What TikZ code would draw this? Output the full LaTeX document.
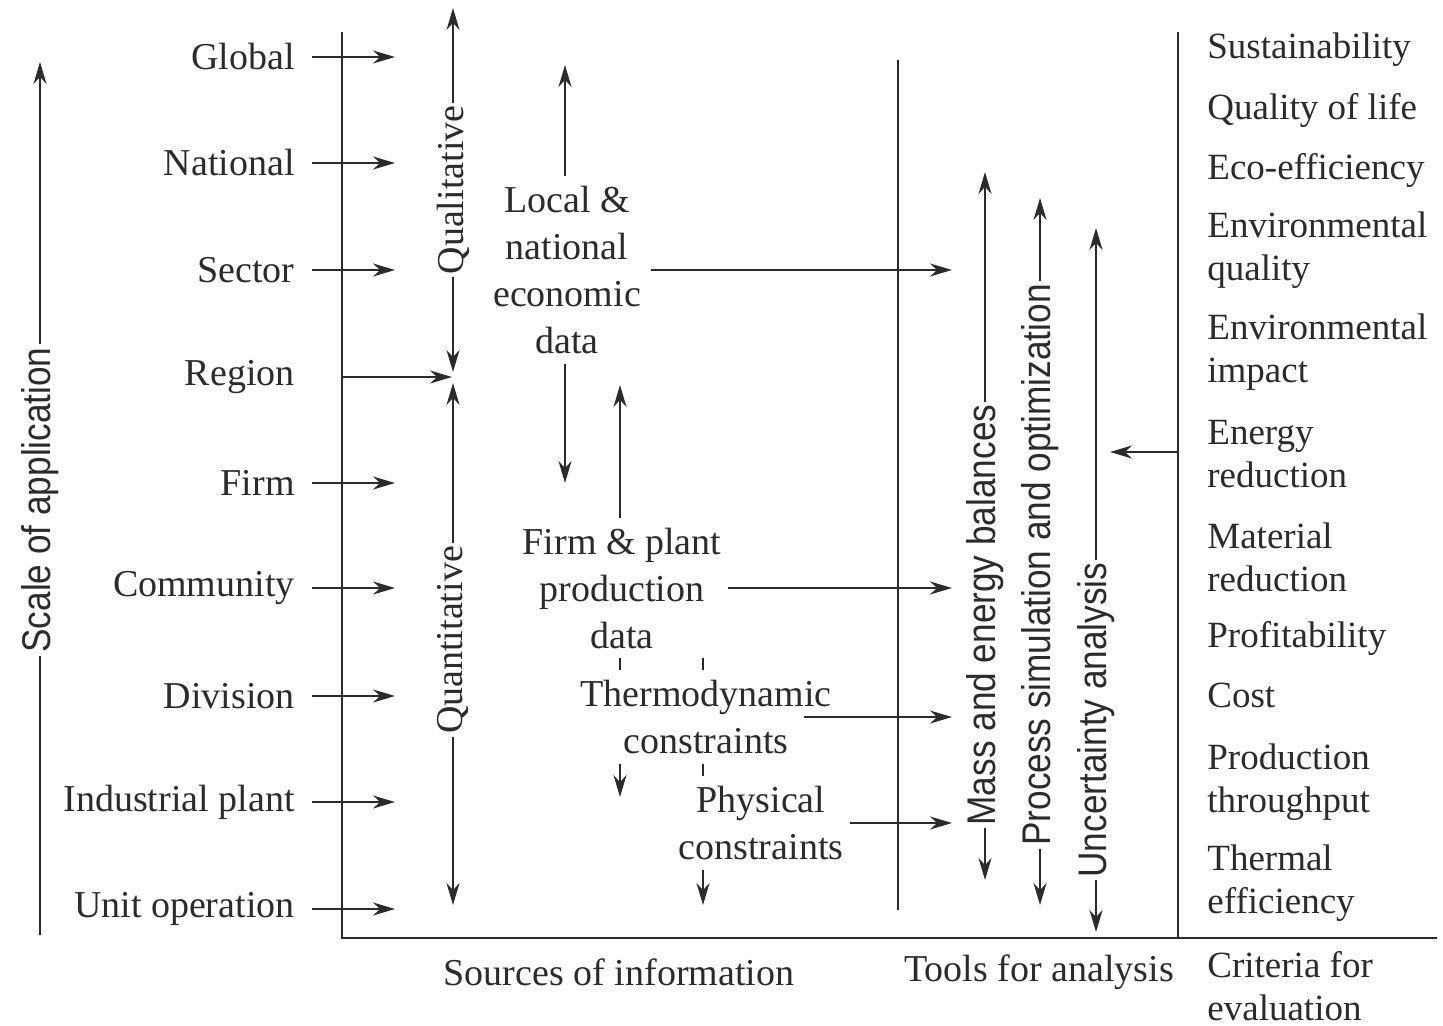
\documentclass[tikz,border=0pt]{standalone}
\usepackage{fontspec}
\setmainfont{Liberation Serif}
\newfontfamily\toolfont[FakeStretch=0.88]{Liberation Sans}
\usepackage{xcolor}
\usepackage{tikz}
\usetikzlibrary{arrows.meta,positioning}
\definecolor{ink}{HTML}{2B2B2B}

\begin{document}
\begin{tikzpicture}[
    x=0.5pt, y=-0.5pt,
    level/.style={anchor=east, inner xsep=8.5pt, inner ysep=0pt, text=ink, font=\fontsize{19}{21.5}\selectfont},
    source/.style={align=center, fill=white, inner xsep=3pt, inner ysep=5pt, text=ink, font=\fontsize{19}{23.5}\selectfont},
    criterion/.style={anchor=west, align=left, inner sep=0pt, text=ink, font=\fontsize{18.5}{21.5}\selectfont},
    caption/.style={inner sep=0pt, text=ink, font=\fontsize{19}{21.5}\selectfont},
    axislabel/.style={rotate=90, fill=white, inner xsep=1.5pt, inner ysep=0pt, text=ink, font=\fontsize{19}{21.5}\selectfont},
    toollabel/.style={rotate=90, fill=white, inner xsep=1.5pt, inner ysep=0pt, text=ink, font=\toolfont\fontsize{20}{22}\selectfont},
    line/.style={-{Stealth[length=11pt,width=6.5pt]}, line width=1.1pt, draw=ink},
    both/.style={{Stealth[length=11pt,width=6.5pt]}-{Stealth[length=11pt,width=6.5pt]}, line width=1.1pt, draw=ink},
    frame/.style={line width=1.1pt, draw=ink}
]
    \useasboundingbox (0,0) rectangle (1443,1026);

    % free ends
    \coordinate (scale-bot) at (40,935);
    \coordinate (scale-top) at (40,62);
    \coordinate (srcline) at (395,0);
    \coordinate (toolline) at (952,0);
    \coordinate (region-src) at (342,377);
    \coordinate (junction) at (452,377);
    \coordinate (qual-top) at (453,8);
    \coordinate (qual-bot) at (453,372);
    \coordinate (quant-top) at (453,383);
    \coordinate (quant-bot) at (453,905);
    \coordinate (econ-top) at (565,65);
    \coordinate (econ-bot) at (565,483);
    \coordinate (plant-top) at (620,385);
    \coordinate (plant-bot) at (620,797);
    \coordinate (thermo-top) at (703,620);
    \coordinate (thermo-bot) at (703,905);
    \coordinate (mass-top) at (985,172);
    \coordinate (mass-bot) at (985,880);
    \coordinate (sim-top) at (1040,198);
    \coordinate (sim-bot) at (1040,905);
    \coordinate (unc-top) at (1096,228);
    \coordinate (unc-bot) at (1096,932);
    \coordinate (crit-src) at (1178,452);
    \coordinate (crit-in) at (1110,452);

    % frame
    \draw[frame] (342,32) -- (342,938) -- (1437,938);
    \draw[frame] (898,60) -- (898,910);
    \draw[frame] (1178,32) -- (1178,938);

    % vertical arrows (behind the labels)
    \draw[line] (scale-bot) -- (scale-top);
    \draw[both] (qual-top) -- (qual-bot);
    \draw[both] (quant-top) -- (quant-bot);
    \draw[both] (econ-top) -- (econ-bot);
    \draw[both] (plant-top) -- (plant-bot);
    \draw[line] (thermo-top) -- (thermo-bot);
    \draw[both] (mass-top) -- (mass-bot);
    \draw[both] (sim-top) -- (sim-bot);
    \draw[both] (unc-top) -- (unc-bot);

    % scale of application
    \node[axislabel, font=\toolfont\fontsize{20}{22}\selectfont] (scale) at (40,500) {Scale of application};
    \node[level] (global) at (312,57) {Global};
    \node[level] (national) at (312,163) {National};
    \node[level] (sector) at (312,270) {Sector};
    \node[level] (region) at (312,377) {Region};
    \node[level] (firm) at (312,483) {Firm};
    \node[level] (community) at (312,588) {Community};
    \node[level] (division) at (312,696) {Division};
    \node[level] (plant) at (312,802) {Industrial plant};
    \node[level] (unitop) at (312,909) {Unit operation};

    % sources of information
    \node[axislabel] (qual) at (453,190) {Qualitative};
    \node[axislabel] (quant) at (453,640) {Quantitative};
    \node[source] (econ) at (567,270) {Local \&\\national\\economic\\data};
    \node[source] (firmdata) at (622,588) {Firm \& plant\\production\\data};
    \node[source] (thermo) at (706,717) {Thermodynamic\\constraints};
    \node[source] (physical) at (761,823) {Physical\\constraints};

    % tools for analysis
    \node[toollabel] (mass) at (985,615) {Mass and energy balances};
    \node[toollabel] (sim) at (1040,565) {Process simulation and optimization};
    \node[toollabel] (unc) at (1096,720) {Uncertainty analysis};

    % criteria for evaluation
    \node[criterion] (sust) at (1207,50) {Sustainability};
    \node[criterion] (life) at (1207,110) {Quality of life};
    \node[criterion] (eco) at (1207,170) {Eco-efficiency};
    \node[criterion] (envq) at (1207,250) {Environmental\\quality};
    \node[criterion] (envi) at (1207,352) {Environmental\\impact};
    \node[criterion] (energy) at (1207,454) {Energy\\reduction};
    \node[criterion] (material) at (1207,557) {Material\\reduction};
    \node[criterion] (profit) at (1207,638) {Profitability};
    \node[criterion] (cost) at (1207,695) {Cost};
    \node[criterion] (output) at (1207,782) {Production\\throughput};
    \node[criterion] (thermal) at (1207,883) {Thermal\\efficiency};

    % column captions
    \node[caption] (sources) at (619,972) {Sources of information};
    \node[caption] (tools) at (1039,972) {Tools for analysis};
    \node[criterion] (criteria) at (1207,986) {Criteria for\\evaluation};

    % horizontal arrows
    \draw[line] (global.east) -- (global.east -| srcline);
    \draw[line] (national.east) -- (national.east -| srcline);
    \draw[line] (sector.east) -- (sector.east -| srcline);
    \draw[line] (region-src) -- (junction);
    \draw[line] (firm.east) -- (firm.east -| srcline);
    \draw[line] (community.east) -- (community.east -| srcline);
    \draw[line] (division.east) -- (division.east -| srcline);
    \draw[line] (plant.east) -- (plant.east -| srcline);
    \draw[line] (unitop.east) -- (unitop.east -| srcline);

    \draw[line] ([xshift=2pt]econ.east) -- (econ.east -| toolline);
    \draw[line] (firmdata.east) -- (firmdata.east -| toolline);
    \draw[line] ([xshift=-17pt]thermo.east) -- (thermo.east -| toolline);
    \draw[line] (physical.east) -- (physical.east -| toolline);
    \draw[line] (crit-src) -- (crit-in);
\end{tikzpicture}
\end{document}
